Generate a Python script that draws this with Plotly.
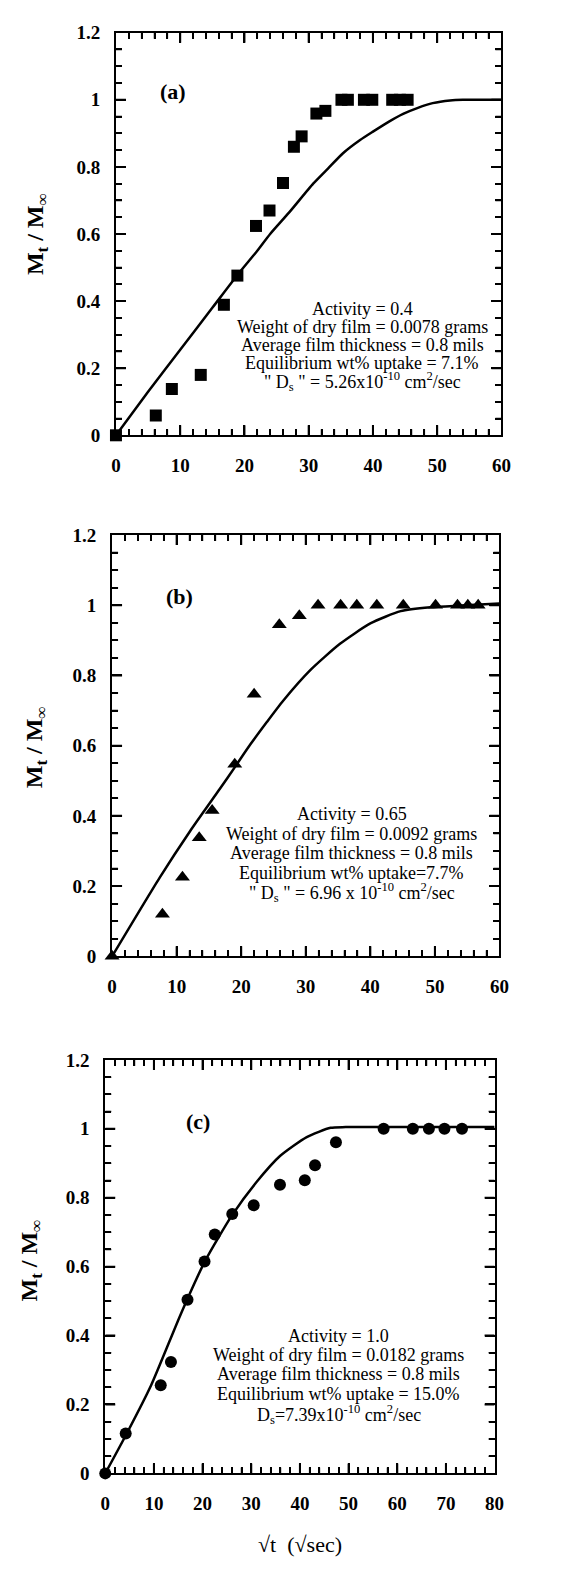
import plotly.graph_objects as go

# ---------------- data ----------------
# Panel (a): activity 0.4, squares
a_x = [0, 6.2, 8.7, 13.2, 16.8, 18.9, 21.8, 23.9, 26.0, 27.7, 28.9, 31.2, 32.6,
       35.1, 36.1, 38.6, 39.9, 43.0, 44.2, 45.4]
a_y = [0, 0.059, 0.138, 0.18, 0.389, 0.476, 0.624, 0.67, 0.752, 0.86, 0.891, 0.959, 0.967,
       1.0, 1.0, 1.0, 1.0, 1.0, 1.0, 1.0]
a_fit_x = [0, 5, 10, 15, 19, 22, 24, 27, 30.7, 33, 35.3, 38, 40, 42.5, 44.7, 47, 49.3, 52, 54, 60]
a_fit_y = [0, 0.13, 0.255, 0.38, 0.48, 0.55, 0.6, 0.665, 0.75, 0.795, 0.84, 0.88, 0.905, 0.935,
           0.958, 0.976, 0.99, 0.998, 1.0, 1.0]

# Panel (b): activity 0.65, triangles
b_x = [0, 7.8, 10.9, 13.5, 15.5, 19.0, 22.0, 25.9, 29.0, 31.9, 35.4, 37.9, 41.0,
       45.1, 50.1, 53.5, 55.1, 56.7]
b_y = [0, 0.12, 0.225, 0.338, 0.415, 0.547, 0.746, 0.944, 0.97, 1.0, 1.0, 1.0, 1.0,
       1.0, 1.0, 1.0, 1.0, 1.0]
b_fit_x = [0, 7.4, 12.1, 16.7, 19.1, 21.4, 24.0, 26.5, 30.7, 35.3, 40.0, 44.7, 49.3, 54.0, 60]
b_fit_y = [0, 0.225, 0.357, 0.477, 0.541, 0.603, 0.668, 0.728, 0.815, 0.89, 0.948, 0.983, 0.994, 0.999, 1.005]

# Panel (c): activity 1.0, circles
c_x = [0, 4.2, 11.4, 13.5, 16.9, 20.4, 22.5, 26.1, 30.5, 35.9, 41.0, 43.1, 47.4,
       57.2, 63.2, 66.5, 69.7, 73.3]
c_y = [0, 0.116, 0.256, 0.323, 0.504, 0.615, 0.693, 0.753, 0.778, 0.838, 0.851, 0.894, 0.961,
       1.0, 1.0, 1.0, 1.0, 1.0]
c_fit_x = [0, 4.5, 9.4, 15.6, 20.5, 26.0, 31.0, 35.9, 41.4, 46.3, 49.4, 80]
c_fit_y = [0, 0.118, 0.255, 0.465, 0.616, 0.748, 0.844, 0.921, 0.976, 1.003, 1.005, 1.005]

# tick values
y_ticks = [0, 0.2, 0.4, 0.6, 0.8, 1, 1.2]
y_minor = [round(0.05 * k, 2) for k in range(25) if k % 4 != 0]
x_ticks_60 = [0, 10, 20, 30, 40, 50, 60]
x_ticks_80 = [0, 10, 20, 30, 40, 50, 60, 70, 80]

a_text = ["Activity = 0.4",
          "Weight of dry film = 0.0078 grams",
          "Average film thickness = 0.8 mils",
          "Equilibrium wt% uptake = 7.1%",
          "\" D<sub>s</sub> \" = 5.26x10<sup>-10</sup> cm<sup>2</sup>/sec"]
b_text = ["Activity = 0.65",
          "Weight of dry film = 0.0092 grams",
          "Average film thickness = 0.8 mils",
          "Equilibrium wt% uptake=7.7%",
          "\" D<sub>s</sub> \" = 6.96 x 10<sup>-10</sup> cm<sup>2</sup>/sec"]
c_text = ["Activity = 1.0",
          "Weight of dry film = 0.0182 grams",
          "Average film thickness = 0.8 mils",
          "Equilibrium wt% uptake = 15.0%",
          "D<sub>s</sub>=7.39x10<sup>-10</sup> cm<sup>2</sup>/sec"]

# ---------------- layout ----------------
W, H = 563, 1587
SERIF = "Liberation Serif"
TICKFONT = dict(family=SERIF, size=19, color="black", weight="bold")
MAJ_LEN, MIN_LEN = 10, 6
MAJ_W, MIN_W = 2, 1.5

def px_dom_x(l, r):
    return [l / W, r / W]

def px_dom_y(top, bottom):
    return [1 - bottom / H, 1 - top / H]

fig = go.Figure()
layout = dict(width=W, height=H, margin=dict(l=0, r=0, t=0, b=0),
              paper_bgcolor="white", plot_bgcolor="white", showlegend=False)
shapes = []

panels = [
    (px_dom_x(114, 510), px_dom_y(23, 431), x_ticks_60, a_x, a_y, a_fit_x, a_fit_y, "square", 12),
    (px_dom_x(110, 508), px_dom_y(532, 959), x_ticks_60, b_x, b_y, b_fit_x, b_fit_y, "triangle-up", 13),
    (px_dom_x(103, 503), px_dom_y(1064, 1483), x_ticks_80, c_x, c_y, c_fit_x, c_fit_y, "circle", 12),
]

def tick_x(xa, ya, t, yanchor, length, width):
    shapes.append(dict(type="line", xref=xa, yref=ya, x0=t, x1=t, ysizemode="pixel",
                       yanchor=yanchor, y0=0, y1=length, layer="above",
                       line=dict(color="black", width=width)))

def tick_y(xa, ya, t, xanchor, length, width):
    shapes.append(dict(type="line", xref=xa, yref=ya, y0=t, y1=t, xsizemode="pixel",
                       xanchor=xanchor, x0=0, x1=length, layer="above",
                       line=dict(color="black", width=width)))

for i, (xd, yd, xt, px, py, fx, fy, sym, sz) in enumerate(panels):
    n = "" if i == 0 else str(i + 1)
    xa, ya = "x" + n, "y" + n
    xmax = xt[-1]
    layout["xaxis" + n] = dict(domain=xd, range=[0, xmax], anchor=ya, tickvals=xt,
                               ticks="inside", ticklen=MAJ_LEN, tickwidth=MAJ_W, tickcolor="black",
                               minor=dict(dtick=2, tick0=0, ticks="inside", ticklen=MIN_LEN,
                                          tickwidth=MIN_W, tickcolor="black", showgrid=False),
                               showline=True, linewidth=2, linecolor="black",
                               mirror="ticks", showgrid=False, zeroline=False,
                               tickfont=TICKFONT, ticklabelstandoff=12)
    layout["yaxis" + n] = dict(domain=yd, range=[0, 1.2], anchor=xa, tickvals=y_ticks,
                               ticks="inside", ticklen=MAJ_LEN, tickwidth=MAJ_W, tickcolor="black",
                               minor=dict(dtick=0.05, tick0=0, ticks="inside", ticklen=MIN_LEN,
                                          tickwidth=MIN_W, tickcolor="black", showgrid=False),
                               showline=True, linewidth=2, linecolor="black",
                               mirror="ticks", showgrid=False, zeroline=False,
                               tickfont=TICKFONT, ticklabelstandoff=10)
    fig.add_trace(go.Scatter(x=fx, y=fy, xaxis=xa, yaxis=ya, mode="lines",
                             line=dict(color="black", width=2.5, shape="spline", smoothing=0.6),
                             showlegend=False, hoverinfo="skip"))
    fig.add_trace(go.Scatter(x=px, y=py, xaxis=xa, yaxis=ya, mode="markers",
                             marker=dict(symbol=sym, size=sz, color="black"),
                             cliponaxis=False, showlegend=False))
    # inward tick marks on all four sides (drawn as axis-referenced shapes too)
    x_minor = [v for v in range(0, xmax + 1, 2) if v % 10 != 0]
    for t in xt[1:-1]:
        tick_x(xa, ya, t, 0, MAJ_LEN, MAJ_W)
        tick_x(xa, ya, t, 1.2, -MAJ_LEN, MAJ_W)
    for t in x_minor:
        tick_x(xa, ya, t, 0, MIN_LEN, MIN_W)
        tick_x(xa, ya, t, 1.2, -MIN_LEN, MIN_W)
    for t in y_ticks[1:-1]:
        tick_y(xa, ya, t, 0, MAJ_LEN, MAJ_W)
        tick_y(xa, ya, t, xmax, -MAJ_LEN, MAJ_W)
    for t in y_minor:
        tick_y(xa, ya, t, 0, MIN_LEN, MIN_W)
        tick_y(xa, ya, t, xmax, -MIN_LEN, MIN_W)

annotations = []

def add_block(xref, yref, cx, ys, lines):
    for yy, t in zip(ys, lines):
        annotations.append(dict(x=cx, y=yy, xref=xref, yref=yref, text=t, showarrow=False,
                                xanchor="center", yanchor="middle",
                                font=dict(family=SERIF, size=18, color="black")))

add_block("x", "y", 38.3, [0.376, 0.322, 0.268, 0.214, 0.16], a_text)
add_block("x2", "y2", 37.1, [0.406, 0.349, 0.293, 0.237, 0.181], b_text)
add_block("x3", "y3", 48.0, [0.399, 0.344, 0.287, 0.229, 0.172], c_text)

for xr_, yr_, x, y, lab in [("x", "y", 8.9, 1.024, "(a)"), ("x2", "y2", 10.5, 1.024, "(b)"),
                            ("x3", "y3", 19.0, 1.02, "(c)")]:
    annotations.append(dict(x=x, y=y, xref=xr_, yref=yr_, text="<b>" + lab + "</b>", showarrow=False,
                            xanchor="center", yanchor="middle",
                            font=dict(family=SERIF, size=22, color="black")))

for xc, yc in [(33, 227), (32, 747), (27, 1267)]:
    annotations.append(dict(x=xc / W, y=1 - yc / H, xref="paper", yref="paper",
                            text="<b>M<sub>t</sub> / M<sub>∞</sub></b>", showarrow=False,
                            textangle=-90, xanchor="center", yanchor="middle",
                            font=dict(family=SERIF, size=24, color="black")))

annotations.append(dict(x=303 / W, y=1 - 1555 / H, xref="paper", yref="paper",
                        text="√t  (√sec)", showarrow=False, xanchor="center", yanchor="middle",
                        font=dict(family=SERIF, size=22, color="black")))

layout["annotations"] = annotations
layout["shapes"] = shapes
fig.update_layout(**layout)

fig.write_html("out.html")
